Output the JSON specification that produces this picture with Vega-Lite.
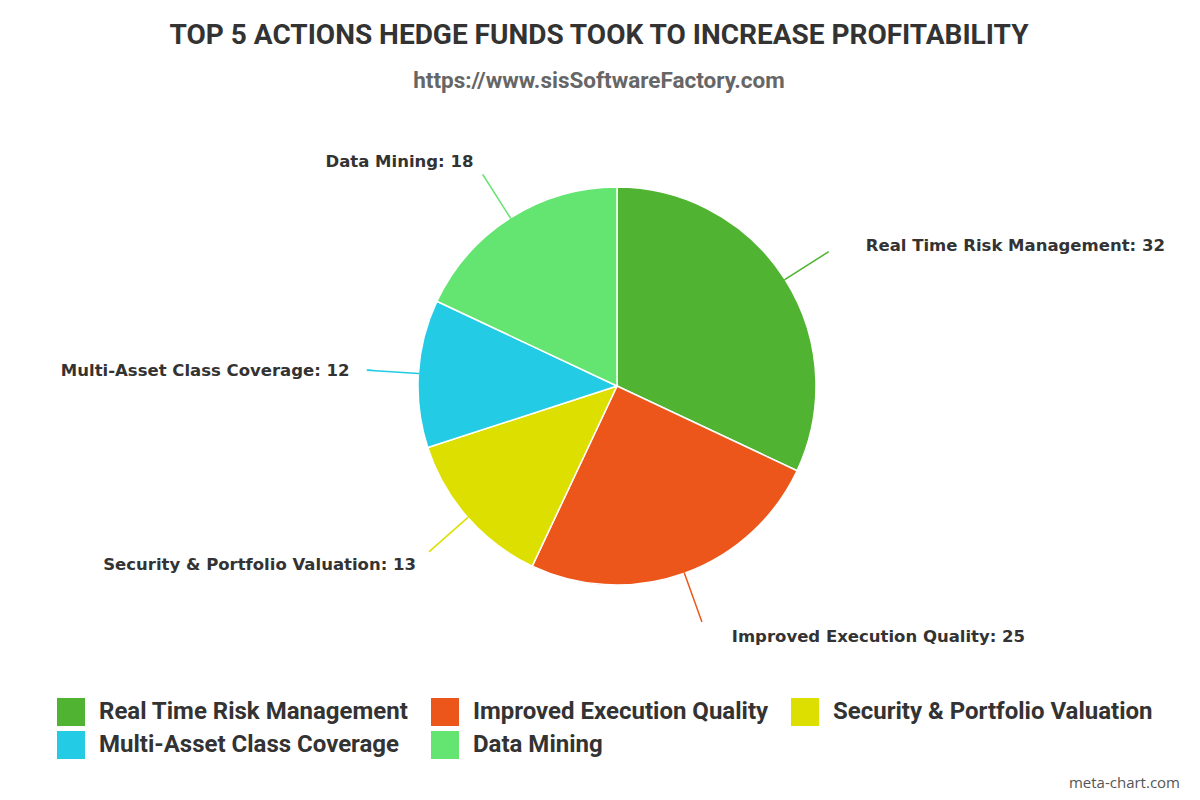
{
  "$schema": "https://vega.github.io/schema/vega-lite/v6.json",
  "description": "Top 5 actions hedge funds took to increase profitability, pie chart.",
  "autosize": "none",
  "padding": {"top": 100, "left": 34, "right": 0, "bottom": 128},
  "width": 1166,
  "height": 572,
  "background": "white",
  "title": {
    "text": "TOP 5 ACTIONS HEDGE FUNDS TOOK TO INCREASE PROFITABILITY",
    "subtitle": "https://www.sisSoftwareFactory.com",
    "anchor": "middle",
    "dx": -18,
    "font": "Roboto, sans-serif",
    "fontSize": 28,
    "fontWeight": "bold",
    "color": "#333333",
    "subtitleFont": "Roboto, sans-serif",
    "subtitleFontSize": 22.5,
    "subtitleFontWeight": "bold",
    "subtitleColor": "#666666",
    "subtitlePadding": 20,
    "offset": 8
  },
  "data": {
    "values": [
      {"action": "Real Time Risk Management", "value": 32, "order": 1},
      {"action": "Improved Execution Quality", "value": 25, "order": 2},
      {"action": "Security & Portfolio Valuation", "value": 13, "order": 3},
      {"action": "Multi-Asset Class Coverage", "value": 12, "order": 4},
      {"action": "Data Mining", "value": 18, "order": 5}
    ]
  },
  "transform": [
    {"window": [{"op": "sum", "field": "value", "as": "cum"}], "sort": [{"field": "order"}]},
    {"calculate": "datum.cum - datum.value / 2", "as": "mid"},
    {"calculate": "datum.mid + 0.001", "as": "mid2"},
    {"calculate": "datum.action + ': ' + datum.value", "as": "label"}
  ],
  "layer": [
    {
      "mark": {"type": "arc", "radius": 199, "stroke": "white", "strokeWidth": 1.5},
      "encoding": {
        "theta": {"field": "value", "type": "quantitative", "stack": true, "scale": {"domain": [0, 100]}},
        "order": {"field": "order", "type": "ordinal"},
        "color": {
          "field": "action",
          "type": "nominal",
          "sort": null,
          "scale": {
            "domain": ["Real Time Risk Management", "Improved Execution Quality", "Security & Portfolio Valuation", "Multi-Asset Class Coverage", "Data Mining"],
            "range": ["#50B432", "#ED561B", "#DDDF00", "#24CBE5", "#64E572"]
          },
          "legend": {
            "orient": "none",
            "legendX": 23,
            "legendY": 598,
            "direction": "horizontal",
            "columns": 3,
            "gridAlign": "none",
            "title": null,
            "symbolType": "square",
            "symbolSize": 784,
            "symbolStrokeWidth": 0,
            "symbolOpacity": 1,
            "labelFont": "Roboto, sans-serif",
            "labelFontSize": 24,
            "labelFontWeight": "bold",
            "labelColor": "#333333",
            "labelOffset": 14,
            "labelLimit": 500,
            "columnPadding": 22,
            "rowPadding": 5
          }
        }
      }
    },
    {
      "mark": {"type": "arc", "radius": 199, "radius2": 250, "strokeWidth": 1.5, "fillOpacity": 0},
      "encoding": {
        "theta": {"field": "mid", "type": "quantitative", "stack": null},
        "theta2": {"field": "mid2"},
        "stroke": {
          "field": "action",
          "type": "nominal",
          "legend": null,
          "scale": {
            "domain": ["Real Time Risk Management", "Improved Execution Quality", "Security & Portfolio Valuation", "Multi-Asset Class Coverage", "Data Mining"],
            "range": ["#50B432", "#ED561B", "#DDDF00", "#24CBE5", "#64E572"]
          }
        }
      }
    },
    {
      "transform": [{"filter": "datum.mid < 50"}],
      "mark": {"type": "text", "radius": 265, "align": "left", "baseline": "middle", "dx": 25, "dy": 2, "font": "DejaVu Sans, sans-serif", "fontSize": 16.5, "fontWeight": "bold", "color": "#333333"},
      "encoding": {
        "theta": {"field": "mid", "type": "quantitative", "stack": null},
        "text": {"field": "label"}
      }
    },
    {
      "transform": [{"filter": "datum.mid >= 50"}],
      "mark": {"type": "text", "radius": 268, "align": "right", "baseline": "middle", "dx": 0, "dy": 2, "font": "DejaVu Sans, sans-serif", "fontSize": 16.5, "fontWeight": "bold", "color": "#333333"},
      "encoding": {
        "theta": {"field": "mid", "type": "quantitative", "stack": null},
        "text": {"field": "label"}
      }
    },
    {
      "data": {"values": [{"note": "meta-chart.com"}]},
      "mark": {"type": "text", "align": "right", "baseline": "middle", "dy": 111, "dx": -20, "font": "Open Sans, sans-serif", "fontSize": 15, "color": "#555555"},
      "encoding": {
        "x": {"value": {"expr": "width"}},
        "y": {"value": {"expr": "height"}},
        "text": {"field": "note"}
      }
    }
  ],
  "config": {"view": {"stroke": null}}
}
